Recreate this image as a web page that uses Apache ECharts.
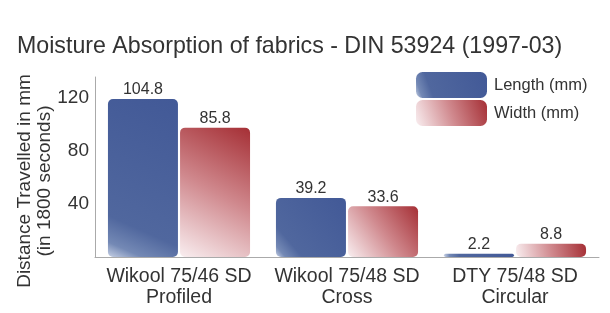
<!DOCTYPE html>
<html><head><meta charset="utf-8">
<script src="https://cdn.jsdelivr.net/npm/echarts@6/dist/echarts.min.js"></script>
<style>html,body{margin:0;padding:0;background:#fff}#c{width:610px;height:313px}</style>
</head><body><div id="c"></div>
<script>
var categories = ['Wikool 75/46 SD\nProfiled', 'Wikool 75/48 SD\nCross', 'DTY 75/48 SD\nCircular'];
var lengthValues = [104.8, 39.2, 2.2];
var widthValues = [85.8, 33.6, 8.8];
var seriesNames = ['Length (mm)', 'Width (mm)'];
var tickLabels = [40, 80, 120];

var font = 'Liberation Sans, Arial, sans-serif';
var chart = echarts.init(document.getElementById('c'));
var blueGrad = new echarts.graphic.LinearGradient(0, 1, 1, 0, [
  {offset: 0, color: '#c6d0e4'}, {offset: 0.08, color: '#7489b5'},
  {offset: 0.22, color: '#50679e'}, {offset: 1, color: '#425997'}]);
var redGrad = new echarts.graphic.LinearGradient(0, 1, 1, 0, [
  {offset: 0, color: '#f9eef0'}, {offset: 0.5, color: '#d0898e'}, {offset: 1, color: '#a52f35'}]);
var labelStyle = {show: true, position: 'top', distance: 1, fontSize: 16, color: '#333', fontFamily: font};
chart.setOption({
  animation: false,
  title: {text: 'Moisture Absorption of fabrics - DIN 53924 (1997-03)', left: 12, top: 30,
    textStyle: {fontSize: 23.2, fontWeight: 'normal', color: '#333', fontFamily: font}},
  legend: {orient: 'vertical', left: 416, top: 72, itemWidth: 71, itemHeight: 26, itemGap: 2, padding: 0,
    data: seriesNames, textStyle: {fontSize: 16.5, color: '#333', fontFamily: font, padding: [0, 0, 0, 2]}},
  grid: {left: 95, right: 11, top: 77, bottom: 56},
  xAxis: {type: 'category', data: categories,
    axisLine: {lineStyle: {color: '#aaa'}}, axisTick: {show: false},
    axisLabel: {fontSize: 19.5, lineHeight: 21, color: '#333', margin: 9, fontFamily: font, interval: 0}},
  yAxis: [
    {type: 'value', min: 0, max: 119.4, splitLine: {show: false},
      axisLine: {show: true, lineStyle: {color: '#aaa'}}, axisTick: {show: false}, axisLabel: {show: false},
      name: 'Distance Travelled in mm\n(in 1800 seconds)', nameLocation: 'middle', nameGap: 40, nameRotate: 90,
      nameTextStyle: {fontSize: 19, lineHeight: 20, color: '#333', fontFamily: font, padding: [0, 28, 0, 0]}},
    {type: 'value', min: 0, max: 136, interval: 40, position: 'left', splitLine: {show: false},
      axisLine: {show: false}, axisTick: {show: false},
      axisLabel: {fontSize: 19, color: '#333', margin: 6, fontFamily: font,
        formatter: function (v) { return tickLabels.indexOf(v) >= 0 ? String(v) : ''; }}}
  ],
  series: [
    {name: seriesNames[0], type: 'bar', data: lengthValues, barWidth: 70, barGap: '3%',
      itemStyle: {color: blueGrad, borderRadius: 5}, label: labelStyle},
    {name: seriesNames[1], type: 'bar', data: widthValues, barWidth: 70, barGap: '3%',
      itemStyle: {color: redGrad, borderRadius: 5}, label: labelStyle}
  ]
});
</script></body></html>
